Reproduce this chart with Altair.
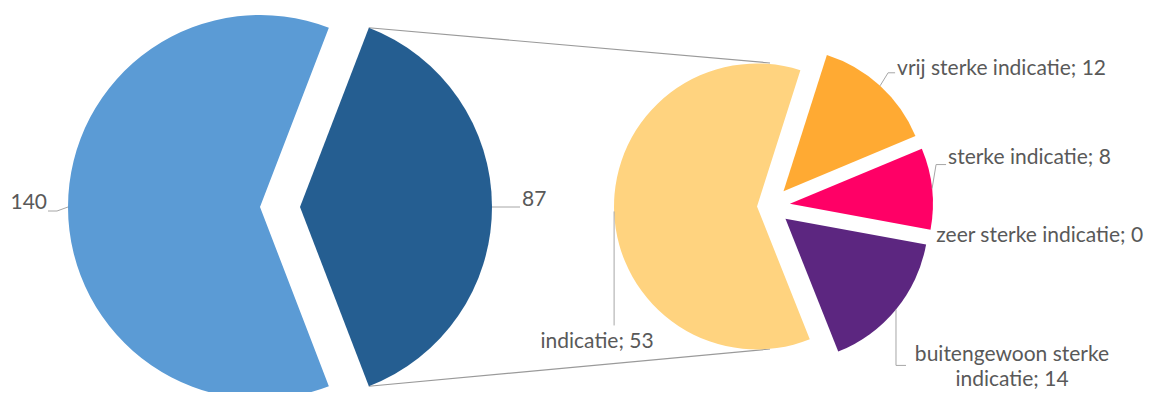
import math
import textwrap
import pandas as pd
import altair as alt

# ---------------- data ----------------
LEFT_CATS = ["met indicatie", "overig"]          # clockwise order in first pie
LEFT_VALUES = [87, 140]
RIGHT_CATS = ["vrij sterke indicatie", "sterke indicatie", "zeer sterke indicatie",
              "buitengewoon sterke indicatie", "indicatie"]   # clockwise order in second pie
RIGHT_VALUES = [12, 8, 0, 14, 53]

# ---------------- style / layout ----------------
LEFT_COLORS = ["#255E91", "#5B9BD5"]
RIGHT_COLORS = ["#FFAA33", "#FF0066", "#7F3F98", "#5C2680", "#FFD37F"]
LEFT_EXPLODE = [20, 20]
RIGHT_EXPLODE = [20, 20, 20, 20, 13]
C1, R1 = (272, 199), 192
C2, R2 = (762, 198), 143
LEFT_GROUP_MID = 90      # degrees: where the detailed slice points
RIGHT_GROUP_MID = 88     # degrees: where the small slices point
FONT = "Lato"
FONT_SIZE = 21
TEXT_COLOR = "#595959"
LINE_COLOR = "#A6A6A6"

LABEL_LAYOUT = {
    "overig": ([(-11, 4), (-20, 4)], -21, -4, "right"),
    "met indicatie": ([(28, 0)], 30, -7, "left"),
    "indicatie": ([(0, 114)], -17, 131, "center"),
    "vrij sterke indicatie": ([(8, -13), (15, -13)], 17, -17, "left"),
    "sterke indicatie": ([(4, -24), (14, -24)], 16, -31, "left"),
    "zeer sterke indicatie": ([], 6, 1, "left"),
    "buitengewoon sterke indicatie": ([(0, 56), (10, 56)], 116, 46, "center"),
}


def pie_frame(cats, values, center, radius, group_mid, explode, pie):
    total = sum(values)
    first = values[0] if pie == "L" else sum(values[:-1])
    start = group_mid / 360 - first / total / 2   # in turns
    rows, cum = [], 0
    for c, v, e in zip(cats, values, explode):
        f0 = start + cum / total
        f1 = start + (cum + v) / total
        cum += v
        mid = (f0 + f1) * math.pi
        ax = center[0] + e * math.sin(mid)
        ay = center[1] - e * math.cos(mid)
        rows.append(dict(cat=c, value=v, f0=f0, f1=f1, cx=ax, cy=ay,
                         px=ax + radius * math.sin(mid), py=ay - radius * math.cos(mid),
                         a0=f0 * 2 * math.pi, a1=f1 * 2 * math.pi))
    return rows


left_rows = pie_frame(LEFT_CATS, LEFT_VALUES, C1, R1, LEFT_GROUP_MID, LEFT_EXPLODE, "L")
right_rows = pie_frame(RIGHT_CATS, RIGHT_VALUES, C2, R2, RIGHT_GROUP_MID, RIGHT_EXPLODE, "R")
left = pd.DataFrame(left_rows)
right = pd.DataFrame(right_rows)

color_scale = alt.Scale(domain=LEFT_CATS + RIGHT_CATS, range=LEFT_COLORS + RIGHT_COLORS)
theta_scale = alt.Scale(domain=[0, 1], range=[0, 2 * math.pi])


def arcs(df, radius):
    return alt.Chart(df).mark_arc(radius=radius).encode(
        x=alt.X("cx:Q", scale=None, axis=None),
        y=alt.Y("cy:Q", scale=None, axis=None),
        theta=alt.Theta("f0:Q", scale=theta_scale),
        theta2="f1:Q",
        color=alt.Color("cat:N", scale=color_scale, legend=None),
    )


# connector lines between the detailed slice and the second pie
d = left_rows[0]
segs = []
for ang, ty in ((d["a0"], C2[1] - R2), (d["a1"], C2[1] + R2)):
    segs.append(dict(x=d["cx"] + R1 * math.sin(ang), y=d["cy"] - R1 * math.cos(ang),
                     x2=C2[0], y2=ty))
connectors = pd.DataFrame(segs)

# labels and leader lines
labels, leaders = [], []
for rows, is_left in ((left_rows, True), (right_rows, False)):
    for r in rows:
        pts, tdx, tdy, align = LABEL_LAYOUT[r["cat"]]
        txt = str(r["value"]) if is_left else f"{r['cat']}; {r['value']}"
        if len(txt) > 26:
            txt = textwrap.fill(txt, 20)
        labels.append(dict(text=txt, x=r["px"] + tdx, y=r["py"] + tdy, align=align))
        prev = (r["px"], r["py"])
        for dx, dy in pts:
            nxt = (r["px"] + dx, r["py"] + dy)
            leaders.append(dict(x=prev[0], y=prev[1], x2=nxt[0], y2=nxt[1]))
            prev = nxt
labels = pd.DataFrame(labels)
leaders = pd.DataFrame(leaders)


def rules(df, color, width):
    return alt.Chart(df).mark_rule(color=color, strokeWidth=width).encode(
        x=alt.X("x:Q", scale=None, axis=None),
        y=alt.Y("y:Q", scale=None, axis=None),
        x2="x2:Q",
        y2="y2:Q",
    )


def texts(align):
    return alt.Chart(labels).transform_filter(alt.datum.align == align).mark_text(
        align=align, baseline="middle", font=FONT, fontSize=FONT_SIZE,
        color=TEXT_COLOR, lineBreak="\n", lineHeight=25,
    ).encode(
        x=alt.X("x:Q", scale=None, axis=None),
        y=alt.Y("y:Q", scale=None, axis=None),
        text="text:N",
    )


chart = alt.layer(
    rules(connectors, "#9A9A9A", 1.2),
    arcs(left, R1),
    arcs(right, R2),
    rules(leaders, LINE_COLOR, 1),
    texts("left"),
    texts("right"),
    texts("center"),
).properties(
    width=1144, height=384, padding=0, autosize="none", background="white"
).configure_view(stroke=None)

chart.save("out.html", embed_options={"renderer": "svg", "actions": False})
